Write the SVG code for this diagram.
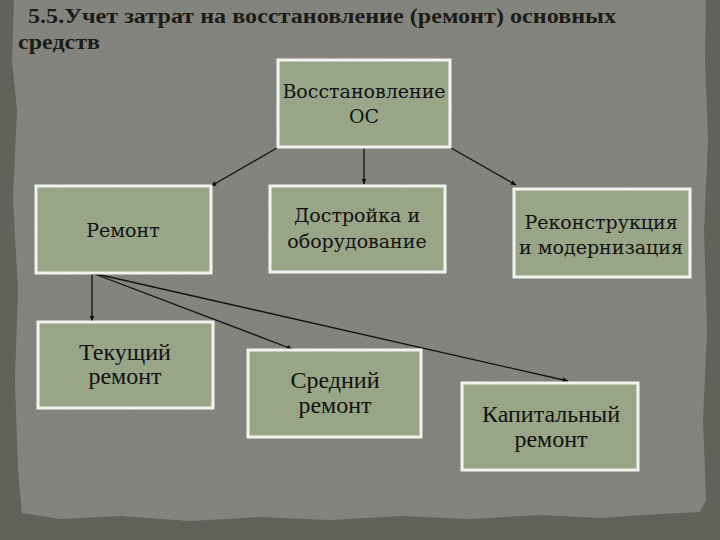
<svg xmlns="http://www.w3.org/2000/svg" width="720" height="540" viewBox="0 0 720 540">
<defs>
<filter id="grain" x="0" y="0" width="100%" height="100%">
<feTurbulence type="fractalNoise" baseFrequency="0.9" numOctaves="2" seed="3" result="n"/>
<feColorMatrix in="n" type="matrix" values="0 0 0 0 0  0 0 0 0 0  0 0 0 0 0  0 0 0 0.18 0" result="a"/>
<feComposite in="a" in2="SourceGraphic" operator="in" result="b"/>
<feMerge><feMergeNode in="SourceGraphic"/><feMergeNode in="b"/></feMerge>
</filter>
<marker id="arr" viewBox="0 0 10 10" refX="9" refY="5" markerWidth="6" markerHeight="6" orient="auto" markerUnits="userSpaceOnUse">
<path d="M0,1 L10,5 L0,9 z" fill="#111"/>
</marker>
</defs>
<style>
.box{fill:#98a687;stroke:#f4f4ee;stroke-width:3}
.t{font-family:"DejaVu Serif","Liberation Serif",serif;font-size:19px;fill:#111;text-anchor:middle}
.b{font-family:"Liberation Serif","DejaVu Serif",serif;font-size:24px;fill:#111;text-anchor:middle}
.title{font-family:"Liberation Serif","DejaVu Serif",serif;font-weight:bold;font-size:22px;fill:#1c1c16}
.c{stroke:#111;stroke-width:1.3;fill:none;marker-end:url(#arr)}
</style>
<rect width="720" height="540" fill="#60635a"/>
<path d="M14,0 L706,0 L705,60 L708,140 L704,230 L707,330 L703,420 L706,500 L700,512 L660,514 L600,518 L540,515 L470,519 L400,516 L330,520 L260,517 L190,521 L120,516 L60,519 L22,513 L18,470 L15,380 L18,290 L13,200 L17,110 L12,60 z" fill="#8a8a84" filter="url(#grain)"/>
<g id="title">
<text class="title" x="28" y="23" textLength="588" lengthAdjust="spacingAndGlyphs">5.5.Учет затрат на восстановление (ремонт) основных</text>
<text class="title" x="18" y="49" textLength="82" lengthAdjust="spacingAndGlyphs">средств</text>
</g>
<g id="connectors">
<line class="c" x1="364" y1="148" x2="364" y2="184"/>
<line class="c" x1="277" y1="148" x2="211" y2="186"/>
<line class="c" x1="451" y1="148" x2="516" y2="185"/>
<line class="c" x1="92" y1="273" x2="92" y2="321"/>
<line class="c" x1="92" y1="273" x2="292" y2="349"/>
<line class="c" x1="92" y1="273" x2="568" y2="381"/>
</g>
<g id="n-vos">
<rect class="box" x="278" y="60" width="172" height="87"/>
<text class="t" x="364" y="98">Восстановление</text>
<text class="t" x="364" y="123">ОС</text>
</g>
<g id="n-remont">
<rect class="box" x="36" y="186" width="175" height="87"/>
<text class="t" x="123" y="237">Ремонт</text>
</g>
<g id="n-dostr">
<rect class="box" x="270" y="186" width="175" height="86"/>
<text class="t" x="357" y="222">Достройка и</text>
<text class="t" x="357" y="248">оборудование</text>
</g>
<g id="n-rekon">
<rect class="box" x="514" y="189" width="176" height="88"/>
<text class="t" x="601" y="229">Реконструкция</text>
<text class="t" x="601" y="254">и модернизация</text>
</g>
<g id="n-tek">
<rect class="box" x="38" y="322" width="175" height="86"/>
<text class="b" x="125" y="360">Текущий</text>
<text class="b" x="125" y="384">ремонт</text>
</g>
<g id="n-sred">
<rect class="box" x="248" y="350" width="173" height="87"/>
<text class="b" x="335" y="388">Средний</text>
<text class="b" x="335" y="413">ремонт</text>
</g>
<g id="n-kap">
<rect class="box" x="462" y="383" width="176" height="87"/>
<text class="b" x="551" y="422">Капитальный</text>
<text class="b" x="551" y="447">ремонт</text>
</g>
</svg>
